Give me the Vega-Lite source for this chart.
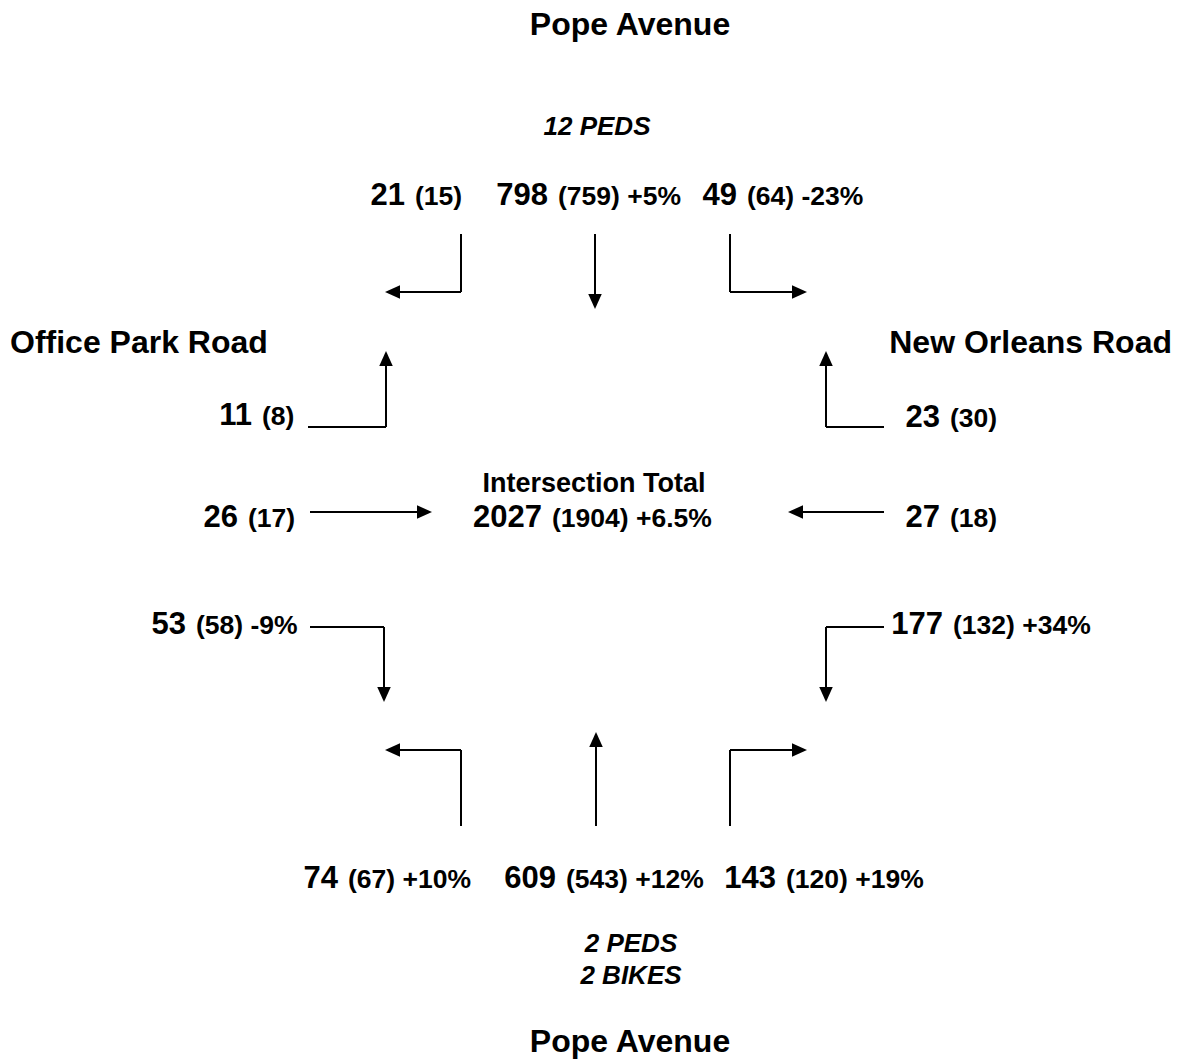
{
  "$schema": "https://vega.github.io/schema/vega-lite/v6.json",
  "width": 1184,
  "height": 1060,
  "autosize": "none",
  "padding": 0,
  "background": "white",
  "config": {"view": {"stroke": null}, "text": {"font": "Liberation Sans", "fontWeight": "bold", "color": "black"}},
  "datasets": {
    "segments": [
      {"move": "SB left", "x": 461, "y": 234, "x2": 461, "y2": 292},
      {"move": "SB left", "x": 461, "y": 292, "x2": 393, "y2": 292},
      {"move": "SB thru", "x": 595, "y": 234, "x2": 595, "y2": 301},
      {"move": "SB right", "x": 730, "y": 234, "x2": 730, "y2": 292},
      {"move": "SB right", "x": 730, "y": 292, "x2": 799, "y2": 292},
      {"move": "EB left", "x": 308, "y": 427, "x2": 386, "y2": 427},
      {"move": "EB left", "x": 386, "y": 427, "x2": 386, "y2": 359},
      {"move": "EB thru", "x": 310, "y": 512, "x2": 424, "y2": 512},
      {"move": "EB right", "x": 310, "y": 627, "x2": 384, "y2": 627},
      {"move": "EB right", "x": 384, "y": 627, "x2": 384, "y2": 694},
      {"move": "WB right", "x": 884, "y": 427, "x2": 826, "y2": 427},
      {"move": "WB right", "x": 826, "y": 427, "x2": 826, "y2": 359},
      {"move": "WB thru", "x": 884, "y": 512, "x2": 796, "y2": 512},
      {"move": "WB left", "x": 884, "y": 627, "x2": 826, "y2": 627},
      {"move": "WB left", "x": 826, "y": 627, "x2": 826, "y2": 694},
      {"move": "NB left", "x": 461, "y": 826, "x2": 461, "y2": 750},
      {"move": "NB left", "x": 461, "y": 750, "x2": 393, "y2": 750},
      {"move": "NB thru", "x": 596, "y": 826, "x2": 596, "y2": 740},
      {"move": "NB right", "x": 730, "y": 826, "x2": 730, "y2": 750},
      {"move": "NB right", "x": 730, "y": 750, "x2": 799, "y2": 750}
    ],
    "heads": [
      {"move": "SB left", "x": 385, "y": 292, "dir": "left"},
      {"move": "SB thru", "x": 595, "y": 309, "dir": "down"},
      {"move": "SB right", "x": 807, "y": 292, "dir": "right"},
      {"move": "EB left", "x": 386, "y": 351, "dir": "up"},
      {"move": "EB thru", "x": 432, "y": 512, "dir": "right"},
      {"move": "EB right", "x": 384, "y": 702, "dir": "down"},
      {"move": "WB right", "x": 826, "y": 351, "dir": "up"},
      {"move": "WB thru", "x": 788, "y": 512, "dir": "left"},
      {"move": "WB left", "x": 826, "y": 702, "dir": "down"},
      {"move": "NB left", "x": 385, "y": 750, "dir": "left"},
      {"move": "NB thru", "x": 596, "y": 732, "dir": "up"},
      {"move": "NB right", "x": 807, "y": 750, "dir": "right"}
    ],
    "counts": [
      {"move": "SB left", "count": 21, "earlier": "(15)", "x": 405, "y": 205},
      {"move": "SB thru", "count": 798, "earlier": "(759) +5%", "x": 548, "y": 205},
      {"move": "SB right", "count": 49, "earlier": "(64) -23%", "x": 737, "y": 205},
      {"move": "EB left", "count": 11, "earlier": "(8)", "x": 252, "y": 425},
      {"move": "EB thru", "count": 26, "earlier": "(17)", "x": 238, "y": 527},
      {"move": "EB right", "count": 53, "earlier": "(58) -9%", "x": 186, "y": 634},
      {"move": "WB right", "count": 23, "earlier": "(30)", "x": 940, "y": 427},
      {"move": "WB thru", "count": 27, "earlier": "(18)", "x": 940, "y": 527},
      {"move": "WB left", "count": 177, "earlier": "(132) +34%", "x": 943, "y": 634},
      {"move": "NB left", "count": 74, "earlier": "(67) +10%", "x": 338, "y": 888},
      {"move": "NB thru", "count": 609, "earlier": "(543) +12%", "x": 556, "y": 888},
      {"move": "NB right", "count": 143, "earlier": "(120) +19%", "x": 776, "y": 888},
      {"move": "Total", "count": 2027, "earlier": "(1904) +6.5%", "x": 542, "y": 527}
    ],
    "roadsCenter": [
      {"text": "Pope Avenue", "x": 630, "y": 35},
      {"text": "Pope Avenue", "x": 630, "y": 1052}
    ],
    "roadsLeft": [{"text": "Office Park Road", "x": 10, "y": 353}],
    "roadsRight": [{"text": "New Orleans Road", "x": 1172, "y": 353}],
    "heading": [{"text": "Intersection Total", "x": 594, "y": 492}],
    "notes": [
      {"text": "12 PEDS", "x": 597, "y": 135},
      {"text": "2 PEDS", "x": 631, "y": 952},
      {"text": "2 BIKES", "x": 631, "y": 984}
    ]
  },
  "layer": [
    {
      "data": {"name": "segments"},
      "mark": {"type": "rule", "color": "black", "strokeWidth": 2},
      "encoding": {
        "x": {"field": "x", "type": "quantitative", "scale": {"domain": [0, 1184], "range": [0, 1184], "nice": false, "zero": false}, "axis": null},
        "y": {"field": "y", "type": "quantitative", "scale": {"domain": [0, 1060], "range": [0, 1060], "nice": false, "zero": false}, "axis": null},
        "x2": {"field": "x2"},
        "y2": {"field": "y2"}
      }
    },
    {
      "data": {"name": "heads"},
      "mark": {"type": "point", "filled": true, "color": "black", "size": 225, "opacity": 1, "strokeWidth": 0},
      "encoding": {
        "x": {"field": "x", "type": "quantitative", "axis": null},
        "y": {"field": "y", "type": "quantitative", "axis": null},
        "shape": {"field": "dir", "type": "nominal", "legend": null,
          "scale": {"domain": ["up", "down", "left", "right"],
            "range": ["M0,0 L0.9,2 L-0.9,2 Z", "M0,0 L0.9,-2 L-0.9,-2 Z", "M0,0 L2,0.9 L2,-0.9 Z", "M0,0 L-2,0.9 L-2,-0.9 Z"]}}
      }
    },
    {
      "data": {"name": "counts"},
      "mark": {"type": "text", "align": "right", "baseline": "alphabetic", "fontSize": 31},
      "encoding": {
        "x": {"field": "x", "type": "quantitative", "axis": null},
        "y": {"field": "y", "type": "quantitative", "axis": null},
        "text": {"field": "count", "type": "quantitative"}
      }
    },
    {
      "data": {"name": "counts"},
      "mark": {"type": "text", "align": "left", "baseline": "alphabetic", "fontSize": 26.5, "dx": 10},
      "encoding": {
        "x": {"field": "x", "type": "quantitative", "axis": null},
        "y": {"field": "y", "type": "quantitative", "axis": null},
        "text": {"field": "earlier", "type": "nominal"}
      }
    },
    {
      "data": {"name": "roadsCenter"},
      "mark": {"type": "text", "align": "center", "baseline": "alphabetic", "fontSize": 32},
      "encoding": {
        "x": {"field": "x", "type": "quantitative", "axis": null},
        "y": {"field": "y", "type": "quantitative", "axis": null},
        "text": {"field": "text", "type": "nominal"}
      }
    },
    {
      "data": {"name": "roadsLeft"},
      "mark": {"type": "text", "align": "left", "baseline": "alphabetic", "fontSize": 32},
      "encoding": {
        "x": {"field": "x", "type": "quantitative", "axis": null},
        "y": {"field": "y", "type": "quantitative", "axis": null},
        "text": {"field": "text", "type": "nominal"}
      }
    },
    {
      "data": {"name": "roadsRight"},
      "mark": {"type": "text", "align": "right", "baseline": "alphabetic", "fontSize": 32},
      "encoding": {
        "x": {"field": "x", "type": "quantitative", "axis": null},
        "y": {"field": "y", "type": "quantitative", "axis": null},
        "text": {"field": "text", "type": "nominal"}
      }
    },
    {
      "data": {"name": "heading"},
      "mark": {"type": "text", "align": "center", "baseline": "alphabetic", "fontSize": 27},
      "encoding": {
        "x": {"field": "x", "type": "quantitative", "axis": null},
        "y": {"field": "y", "type": "quantitative", "axis": null},
        "text": {"field": "text", "type": "nominal"}
      }
    },
    {
      "data": {"name": "notes"},
      "mark": {"type": "text", "align": "center", "baseline": "alphabetic", "fontSize": 26, "fontStyle": "italic"},
      "encoding": {
        "x": {"field": "x", "type": "quantitative", "axis": null},
        "y": {"field": "y", "type": "quantitative", "axis": null},
        "text": {"field": "text", "type": "nominal"}
      }
    }
  ]
}
